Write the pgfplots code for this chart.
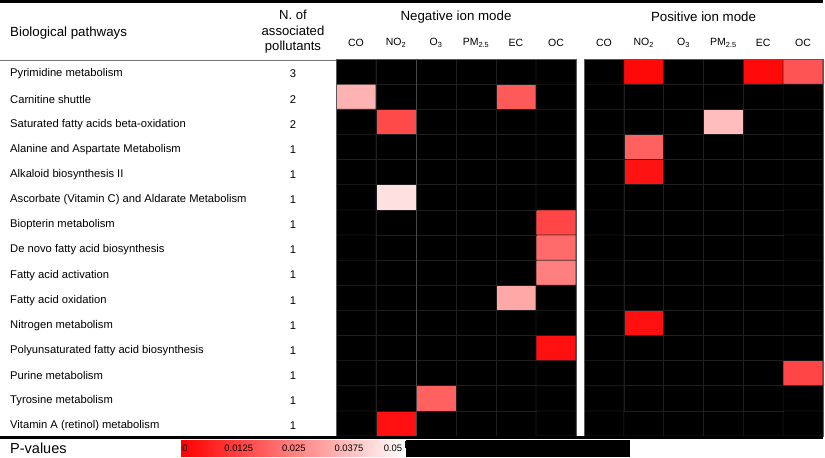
\documentclass[border=0pt]{standalone}
\usepackage{pgfplots}
\pgfplotsset{compat=1.18}
\usepackage{fontspec}
\setmainfont{Liberation Sans}
\newcommand\lab{\fontsize{11.2bp}{13bp}\selectfont}
\newcommand\hdr{\fontsize{13.3bp}{17.5bp}\selectfont}
\newcommand\nhdr{\fontsize{13.1bp}{15.5bp}\selectfont}
\newcommand\colf{\fontsize{10.5bp}{11bp}\selectfont}
\newcommand\cbf{\fontsize{9.4bp}{10bp}\selectfont}
\newcommand\pvf{\fontsize{14.5bp}{16bp}\selectfont}
\pgfplotsset{
  colormap={pval}{rgb255(0cm)=(255,0,0); rgb255(50cm)=(255,255,255); rgb255(50.3cm)=(0,0,0); rgb255(100cm)=(0,0,0)},
  hm/.style={scale only axis, height=377bp, anchor=center,
    xmin=-0.5, xmax=5.5, ymin=-0.5, ymax=14.5,
    colormap name=pval, point meta min=0, point meta max=100,
    xtick={0,...,5},
    xticklabels={CO,NO\textsubscript{2},O\textsubscript{3},PM\textsubscript{2.5},EC,OC},
    xticklabel pos=upper,
    xticklabel style={anchor=center, yshift=16bp, font=\colf},
    major tick length=0pt, tick style={draw=none},
    axis line style={draw=black!65, line width=0.6bp},
    axis background/.style={fill=black},
    axis on top},
  cell/.style={matrix plot*, mesh/cols=6, point meta=explicit, shader=faceted,
    faceted color=black!88, line width=0.6bp}
}
\begin{document}
\begin{tikzpicture}
\useasboundingbox (0,0) rectangle (825bp,-458bp);
% rules of the table
\draw[line width=3bp] (0,-1.5bp) -- (823bp,-1.5bp);
\draw[black!55, line width=1bp] (0,-60.5bp) -- (336bp,-60.5bp);
% header texts
\node[anchor=west, inner sep=0pt, font=\hdr] at (10bp,-33bp) {Biological pathways};
\node[align=center, inner sep=0pt, font=\nhdr] at (293bp,-32bp) {N. of\\associated\\pollutants};
\node[inner sep=0pt, font=\hdr] at (456bp,-17bp) {Negative ion mode};
\node[inner sep=0pt, font=\hdr] at (703.5bp,-17bp) {Positive ion mode};

% Negative ion mode
\begin{axis}[hm, at={(456bp,-247.5bp)}, width=240bp,
  ytick={0,...,14},
  yticklabels={Vitamin A (retinol) metabolism, Tyrosine metabolism, Purine metabolism,
    Polyunsaturated fatty acid biosynthesis, Nitrogen metabolism, Fatty acid oxidation,
    Fatty acid activation, De novo fatty acid biosynthesis, Biopterin metabolism,
    Ascorbate (Vitamin C) and Aldarate Metabolism, Alkaloid biosynthesis II,
    Alanine and Aspartate Metabolism, Saturated fatty acids beta-oxidation,
    Carnitine shuttle, Pyrimidine metabolism},
  yticklabel style={anchor=west, inner sep=0pt, xshift=-326bp, yshift=-2.5bp, font=\lab},
  extra y ticks={0,...,14},
  extra y tick labels={1,1,1,1,1,1,1,1,1,1,1,1,2,2,3},
  extra y tick style={yticklabel style={anchor=center, xshift=283bp}},
  extra x ticks={1.5}, extra x tick labels={\mbox{}},
  extra x tick style={grid=major, major grid style={draw=black!72, line width=0.6bp}}]
\addplot[cell] table[meta=m] {
x y m
0 0 100
1 0 3
2 0 100
3 0 100
4 0 100
5 0 100
0 1 100
1 1 100
2 1 19
3 1 100
4 1 100
5 1 100
0 2 100
1 2 100
2 2 100
3 2 100
4 2 100
5 2 100
0 3 100
1 3 100
2 3 100
3 3 100
4 3 100
5 3 3
0 4 100
1 4 100
2 4 100
3 4 100
4 4 100
5 4 100
0 5 100
1 5 100
2 5 100
3 5 100
4 5 33
5 5 100
0 6 100
1 6 100
2 6 100
3 6 100
4 6 100
5 6 25
0 7 100
1 7 100
2 7 100
3 7 100
4 7 100
5 7 21
0 8 100
1 8 100
2 8 100
3 8 100
4 8 100
5 8 13.5
0 9 100
1 9 44
2 9 100
3 9 100
4 9 100
5 9 100
0 10 100
1 10 100
2 10 100
3 10 100
4 10 100
5 10 100
0 11 100
1 11 100
2 11 100
3 11 100
4 11 100
5 11 100
0 12 100
1 12 14.5
2 12 100
3 12 100
4 12 100
5 12 100
0 13 35
1 13 100
2 13 100
3 13 100
4 13 17.6
5 13 100
0 14 100
1 14 100
2 14 100
3 14 100
4 14 100
5 14 100
};
\end{axis}

% Positive ion mode
\begin{axis}[hm, at={(703.5bp,-247.5bp)}, width=239bp, ytick=\empty]
\addplot[cell] table[meta=m] {
x y m
0 0 100
1 0 100
2 0 100
3 0 100
4 0 100
5 0 100
0 1 100
1 1 100
2 1 100
3 1 100
4 1 100
5 1 100
0 2 100
1 2 100
2 2 100
3 2 100
4 2 100
5 2 13.5
0 3 100
1 3 100
2 3 100
3 3 100
4 3 100
5 3 100
0 4 100
1 4 3
2 4 100
3 4 100
4 4 100
5 4 100
0 5 100
1 5 100
2 5 100
3 5 100
4 5 100
5 5 100
0 6 100
1 6 100
2 6 100
3 6 100
4 6 100
5 6 100
0 7 100
1 7 100
2 7 100
3 7 100
4 7 100
5 7 100
0 8 100
1 8 100
2 8 100
3 8 100
4 8 100
5 8 100
0 9 100
1 9 100
2 9 100
3 9 100
4 9 100
5 9 100
0 10 100
1 10 3.5
2 10 100
3 10 100
4 10 100
5 10 100
0 11 100
1 11 19
2 11 100
3 11 100
4 11 100
5 11 100
0 12 100
1 12 100
2 12 100
3 12 37
4 12 100
5 12 100
0 13 100
1 13 100
2 13 100
3 13 100
4 13 100
5 13 100
0 14 100
1 14 1.5
2 14 100
3 14 100
4 14 2
5 14 16.5
};
\end{axis}

% bottom rule
\draw[line width=2.6bp] (0,-437.6bp) -- (823bp,-437.6bp);

% P-value scale
\node[anchor=west, inner sep=0pt, font=\pvf] at (10bp,-448bp) {P-values};
\begin{axis}[scale only axis, at={(405bp,-448bp)}, anchor=center,
  width=448bp, height=16bp, view={0}{90},
  xmin=0, xmax=100, ymin=0, ymax=1,
  colormap name=pval, point meta min=0, point meta max=100,
  xtick={0.9,12.9,25.2,37.5,47.3},
  xticklabels={0,0.0125,0.025,0.0375,0.05},
  xticklabel style={anchor=center, yshift=8bp, font=\cbf},
  ytick=\empty, ztick=\empty,
  major tick length=0pt, tick style={draw=none},
  axis line style={draw=none}, axis on top]
\addplot3[surf, shader=interp, mesh/cols=4, point meta=\thisrow{z}] table {
x y z
0 0 0
50 0 50
50.3 0 100
100 0 100
0 1 0
50 1 50
50.3 1 100
100 1 100
};
\end{axis}
\end{tikzpicture}
\end{document}
